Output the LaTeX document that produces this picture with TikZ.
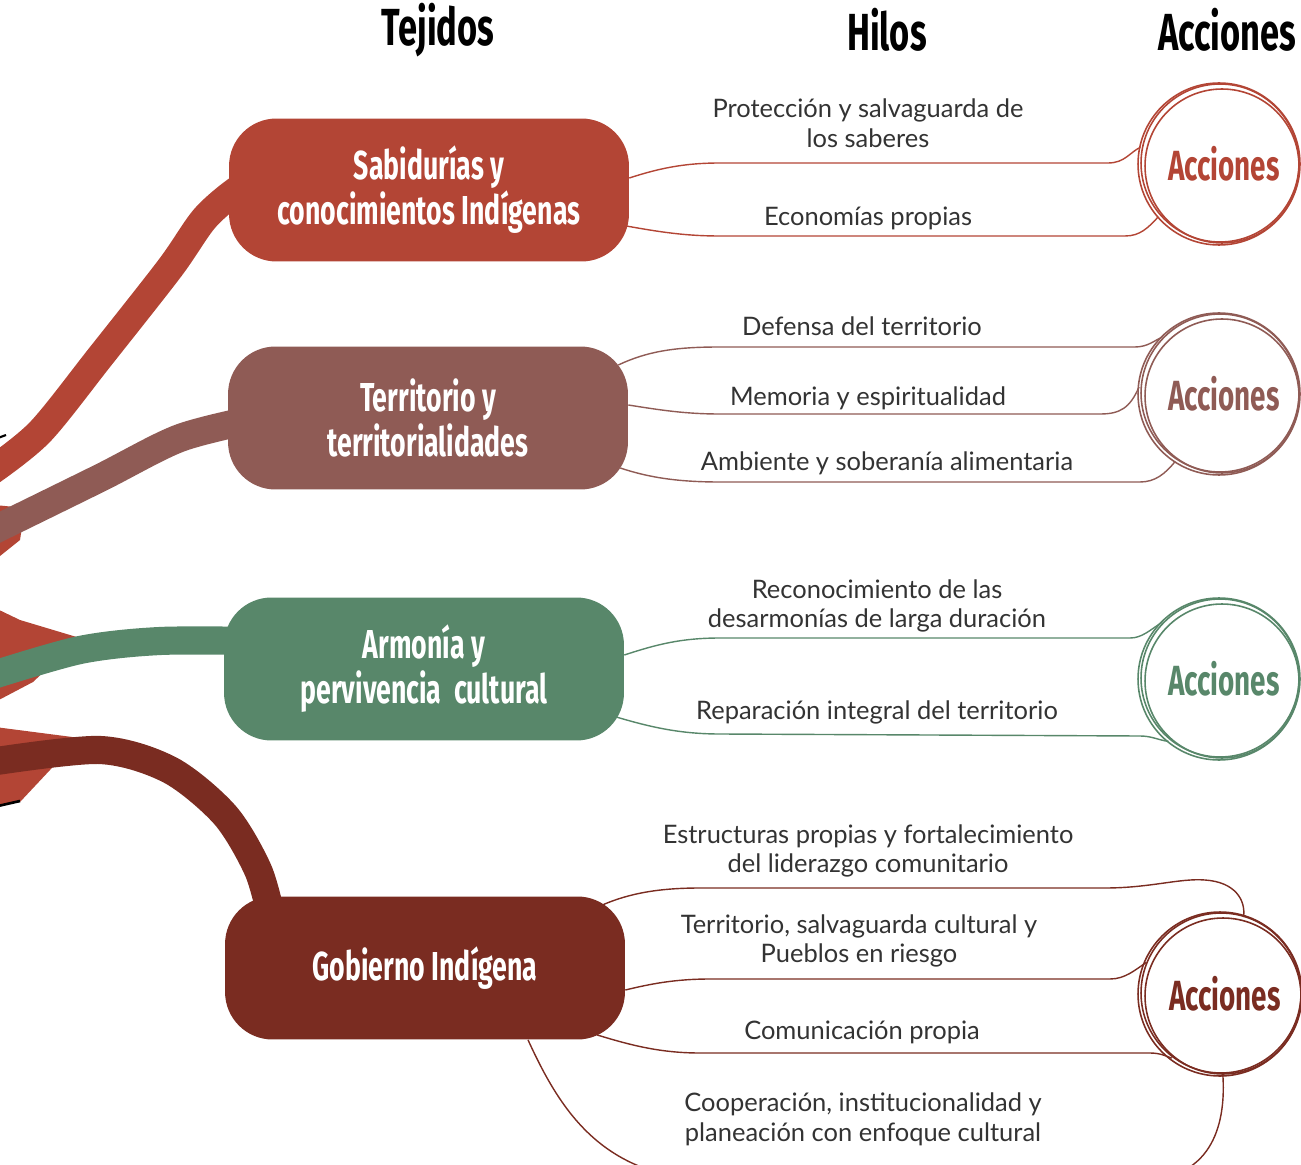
\documentclass[tikz,border=0pt]{standalone}
\usepackage{fontspec}
\setmainfont{Lato}
\newfontfamily\condfont[FakeStretch=0.66]{Fira Sans}
\usetikzlibrary{calc}
\definecolor{rojo}{HTML}{B34535}
\definecolor{rosa}{HTML}{8F5B55}
\definecolor{verde}{HTML}{58876A}
\definecolor{vino}{HTML}{7A2C21}
\definecolor{gristexto}{HTML}{333333}

\begin{document}
\begin{tikzpicture}[x=0.02cm,y=-0.02cm,
  tejido/.style={rounded corners=0.95cm, minimum width=8cm, minimum height=2.86cm, fill=#1, text=white, align=center, inner sep=0pt,
    font=\condfont\bfseries\fontsize{23}{25.6}\selectfont},
  accion/.style={circle, minimum size=3.2cm, inner sep=0pt, text=#1, font=\condfont\bfseries\fontsize{24}{25}\selectfont},
  ring/.style={draw=#1, line width=0.9pt},
  hilo/.style={draw=#1, line width=0.8pt},
  cinta/.style={draw=#1, line width=16pt},
  etiqueta/.style={align=center, text=gristexto, inner sep=0pt, font=\fontsize{14.5}{17}\selectfont},
  titulo/.style={text=black, inner sep=0pt, font=\condfont\bfseries\fontsize{29.7}{32}\selectfont}]
\useasboundingbox (0,0) rectangle (1301,1165);
\clip (0,0) rectangle (1301,1165);

% cintas de la izquierda
\fill[rojo] (-5,505) -- (25,508) -- (20,540) -- (-5,560) -- cycle;
\fill[rojo] (-5,608) -- (20,620) -- (80,638) -- (33,682) -- (-5,702) -- cycle;
\fill[rojo] (-5,727) -- (80,738) -- (20,802) -- (-5,806) -- cycle;
\draw[black, line width=1.5pt] (-2,806) -- (20,801);
\draw[black, line width=1.2pt] (-2,438) -- (6,435);
\draw[cinta=rojo] plot[smooth] coordinates {(-10,472) (40,432) (100,357) (170,268) (205,218) (240,188) (262,180)};
\draw[cinta=rosa] plot[smooth] coordinates {(-10,532) (100,478) (180,438) (260,418)};
\draw[cinta=verde] plot[smooth] coordinates {(-10,676) (80,650) (160,641) (260,641)};
\draw[cinta=vino] plot[smooth] coordinates {(-10,762) (100,750) (170,770) (225,815) (258,870) (272,920)};

% titulos
\node[titulo] (h1) at (438,30) {Tejidos};
\node[titulo] (h2) at (887,30) {Hilos};
\node[titulo] (h3) at (1227,30) {Acciones};

% tejidos
\node[tejido=rojo] (s1) at (429,190) {Sabidurías y\\conocimientos Indígenas};
\node[tejido=rosa] (s2) at (428,418) {Territorio y\\territorialidades};
\node[tejido=verde] (s3) at (424,669) {Armonía y\\pervivencia\ \ cultural};
\node[tejido=vino] (s4) at (425,968) {Gobierno Indígena};

% acciones
\node[accion=rojo] (a1) at (1219,164) {\hspace*{14\pgflinewidth}Acciones};
\draw[ring=rojo] (a1.center) circle[radius=1.62cm];
\draw[ring=rojo] ($(a1.center)+(3,2)$) circle[radius=1.54cm];
\draw[ring=rojo] ($(a1.center)+(1,-1)$) circle[radius=1.58cm];
\node[accion=rosa] (a2) at (1219,394) {\hspace*{14\pgflinewidth}Acciones};
\draw[ring=rosa] (a2.center) circle[radius=1.62cm];
\draw[ring=rosa] ($(a2.center)+(3,2)$) circle[radius=1.54cm];
\draw[ring=rosa] ($(a2.center)+(1,-1)$) circle[radius=1.58cm];
\node[accion=verde] (a3) at (1219,679) {\hspace*{14\pgflinewidth}Acciones};
\draw[ring=verde] (a3.center) circle[radius=1.62cm];
\draw[ring=verde] ($(a3.center)+(3,2)$) circle[radius=1.54cm];
\draw[ring=verde] ($(a3.center)+(1,-1)$) circle[radius=1.58cm];
\node[accion=vino] (a4) at (1220,994) {\hspace*{14\pgflinewidth}Acciones};
\draw[ring=vino] (a4.center) circle[radius=1.64cm];
\draw[ring=vino] ($(a4.center)+(3,2)$) circle[radius=1.56cm];
\draw[ring=vino] ($(a4.center)+(1,-1)$) circle[radius=1.60cm];

% hilos
\draw[hilo=rojo] ($(s1.east)+(0,-12)$) .. controls (660,168) and (685,163) .. (720,163) -- (1108,163) .. controls (1125,163) and (1130,152) .. (a1.168);
\draw[hilo=rojo] ($(s1.east)+(-3,36)$) .. controls (660,232) and (685,236) .. (720,236) -- (1125,236) .. controls (1140,236) and (1148,228) .. (a1.221);
\draw[hilo=rosa] ($(s2.east)+(-10,-53)$) .. controls (650,350) and (680,347) .. (720,347) -- (1135,347) .. controls (1148,347) and (1155,340) .. (a2.135);
\draw[hilo=rosa] ($(s2.east)+(0,-13)$) .. controls (660,410) and (685,414) .. (720,414) -- (1100,414) .. controls (1120,414) and (1130,408) .. (a2.175);
\draw[hilo=rosa] ($(s2.east)+(-8,50)$) .. controls (650,478) and (680,482) .. (720,482) -- (1140,482) .. controls (1155,482) and (1165,474) .. (a2.237);
\draw[hilo=verde] ($(s3.east)+(0,-14)$) .. controls (655,645) and (680,638) .. (720,638) -- (1130,638) .. controls (1142,638) and (1150,630) .. (a3.135);
\draw[hilo=verde] ($(s3.east)+(-8,48)$) .. controls (650,727) and (680,734) .. (720,734) -- (1140,736) .. controls (1152,736) and (1158,740) .. (a3.231);
\draw[hilo=vino] ($(s4.east)+(-23,-63)$) .. controls (630,893) and (660,888) .. (700,888) -- (1105,888) .. controls (1150,888) and (1180,878) .. (1205,880) .. controls (1235,882) and (1246,900) .. (a4.73);
\draw[hilo=vino] ($(s4.east)+(0,22)$) .. controls (650,984) and (675,979) .. (710,979) -- (1110,979) .. controls (1125,979) and (1135,970) .. (a4.157);
\draw[hilo=vino] ($(s4.east)+(-28,67)$) .. controls (630,1045) and (660,1053) .. (700,1053) -- (1150,1053) .. controls (1160,1053) and (1166,1056) .. (a4.233);
\draw[hilo=vino] ($(s4.south)+(103,0)$) .. controls (560,1110) and (600,1172) .. (700,1180) -- (1140,1180) .. controls (1215,1180) and (1226,1120) .. (a4.272);

% etiquetas de los hilos
\node[etiqueta] (l11) at (868,123) {Protección y salvaguarda de\\los saberes};
\node[etiqueta] (l12) at (868,218) {Economías propias};
\node[etiqueta] (l21) at (862,326) {Defensa del territorio};
\node[etiqueta] (l22) at (868,398) {Memoria y espiritualidad};
\node[etiqueta] (l23) at (887,463) {Ambiente y soberanía alimentaria};
\node[etiqueta] (l31) at (877,606) {Reconocimiento de las\\desarmonías de larga duración};
\node[etiqueta] (l32) at (877,712) {Reparación integral del territorio};
\node[etiqueta] (l41) at (868,851) {Estructuras propias y fortalecimiento\\del liderazgo comunitario};
\node[etiqueta] (l42) at (859,941) {Territorio, salvaguarda cultural y\\Pueblos en riesgo};
\node[etiqueta] (l43) at (862,1032) {Comunicación propia};
\node[etiqueta] (l44) at (863,1119) {Cooperación, institucionalidad y\\planeación con enfoque cultural};
\end{tikzpicture}
\end{document}
